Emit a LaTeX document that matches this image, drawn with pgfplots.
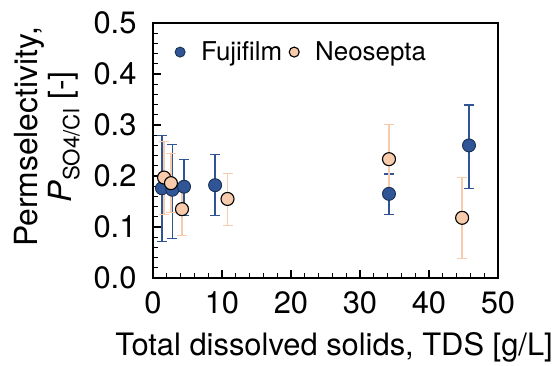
\documentclass[border=0pt]{standalone}
\usepackage{fontspec}
\setmainfont{TeX Gyre Heros}
\usepackage{pgfplots}
\pgfplotsset{compat=1.18}
\usepackage{pgfplotstable}
\definecolor{fuji}{RGB}{47,85,151}
\definecolor{neo}{RGB}{248,203,173}
\pgfplotstableread{
x y ep em
1.3 0.176 0.103 0.105
2.8 0.173 0.089 0.095
4.5 0.179 0.054 0.057
9.0 0.182 0.060 0.060
34.2 0.165 0.039 0.041
45.8 0.260 0.079 0.084
}\fuji
\pgfplotstableread{
x y ep em
1.6 0.197 0.070 0.072
2.6 0.186 0.058 0.058
4.2 0.135 0.052 0.052
10.8 0.155 0.050 0.052
34.2 0.233 0.068 0.068
44.8 0.118 0.079 0.080
}\neo
\begin{document}
\begin{tikzpicture}
\useasboundingbox (-153bp,-88bp) rectangle (407bp,278bp);
\begin{axis}[
  scale only axis, width=345bp, height=255bp,
  xmin=0, xmax=50, ymin=0, ymax=0.5,
  xtick={0,10,...,50}, ytick={0,0.1,...,0.5},
  minor x tick num=4, minor y tick num=4,
  xtick pos=bottom, ytick pos=left,
  axis line style={line width=1.3bp},
  tick style={line width=1.2bp, black},
  major tick length=8bp, minor tick length=5bp,
  tick align=inside,
  /pgf/number format/assume math mode=true,
  yticklabel style={/pgf/number format/fixed, /pgf/number format/fixed zerofill, /pgf/number format/precision=1, xshift=-13bp},
  xticklabel style={yshift=-10bp},
  ticklabel style={font=\fontsize{31}{36}\selectfont},
  xlabel={Total dissolved solids, TDS [g/L]},
  xlabel style={font=\fontsize{31}{36}\selectfont, at={(axis description cs:0.525,-0.302)}, anchor=base},
  ylabel={Permselectivity,\\ \textit{P}\textsubscript{SO4/Cl} [-]},
  ylabel style={font=\fontsize{32}{34}\selectfont, align=center, at={(axis description cs:-0.307,0.553)}, anchor=center},
  legend style={draw=none, fill=none, at={(axis description cs:0.052,0.886)}, anchor=west, font=\fontsize{26}{30}\selectfont, /tikz/every even column/.append style={column sep=4bp}},
  legend image code/.code={\path[draw=none, fill=none, use as bounding box] (-6bp,-5bp) rectangle (19bp,5bp);
    \draw[#1, mark size=5bp] plot coordinates {(0bp,0bp)};},
  legend columns=2,
  legend cell align=left,
]
\addplot[only marks, mark=*, mark size=6.5bp, mark options={fill=fuji, draw=fuji!55!black, line width=0.9bp},
  error bars/.cd, y dir=both, y explicit,
  error bar style={draw=fuji, line width=1.3bp},
  error mark options={draw=fuji, line width=1.3bp, mark size=5bp, rotate=90}]
  table[x=x, y=y, y error plus=ep, y error minus=em] {\fuji};
\addlegendentry{Fujifilm}
\addplot[only marks, mark=*, mark size=6.5bp, mark options={fill=neo, draw=black, line width=1.1bp},
  error bars/.cd, y dir=both, y explicit,
  error bar style={draw=neo, line width=1.3bp},
  error mark options={draw=neo, line width=1.3bp, mark size=5bp, rotate=90}]
  table[x=x, y=y, y error plus=ep, y error minus=em] {\neo};
\addlegendentry{Neosepta}
\end{axis}
\end{tikzpicture}
\end{document}
